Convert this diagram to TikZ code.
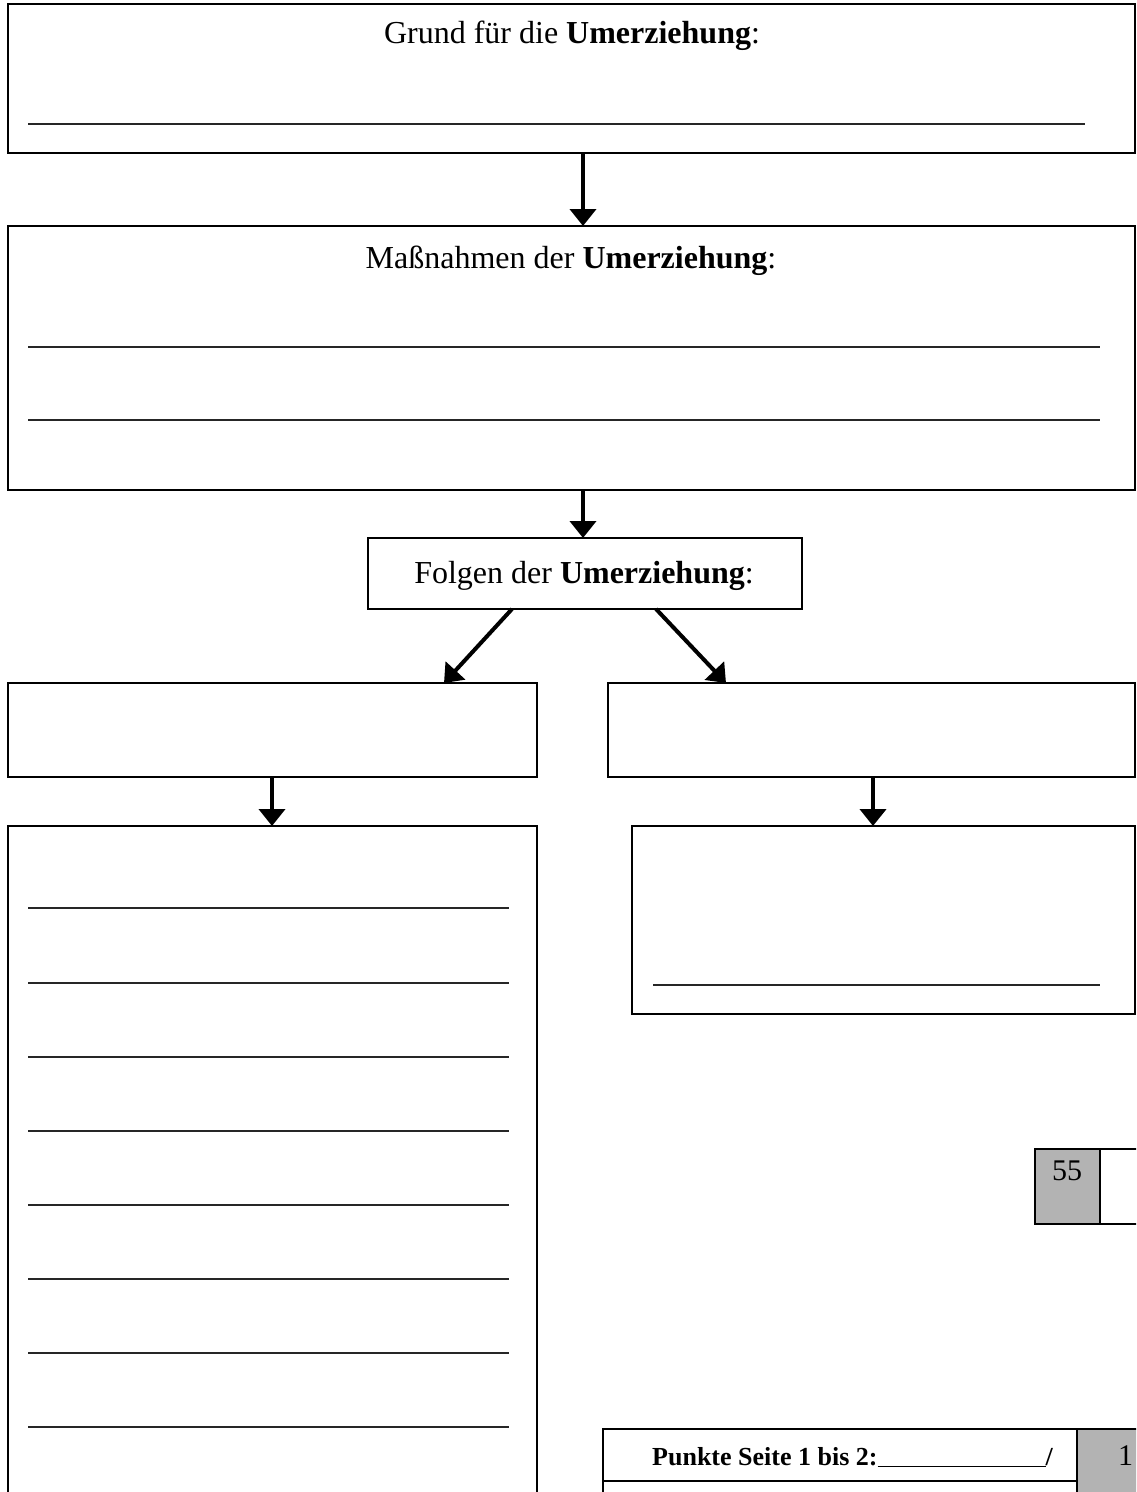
\documentclass[tikz,border=0pt]{standalone}
\usepackage{fontspec}
\setmainfont{Liberation Serif}
\usetikzlibrary{arrows.meta}
\definecolor{cellgray}{RGB}{179,179,179}
\tikzset{
  box/.style={draw=black, line width=2pt, anchor=north west, inner sep=0pt, outer sep=0pt},
  arr/.style={line width=4pt, -{Triangle[width=26pt,length=17pt]}, shorten >=0pt},
  blank/.style={line width=1.4pt, draw=black!85},
  big/.style={font=\fontsize{32}{38}\selectfont, inner sep=0pt},
  pts/.style={font=\fontsize{26}{31}\selectfont\bfseries, inner sep=0pt},
}
\newcommand{\bx}[5]{\node[box, minimum width=#4-#2, minimum height=#5-#3] (#1) at (#2,#3) {};}
\begin{document}
\begin{tikzpicture}[x=1pt,y=-1pt]
\useasboundingbox (0,0) rectangle (1136,1492);
\clip (0,0) rectangle (1136,1492);
% boxes
\node[box, minimum width=1127pt, minimum height=149pt] (b1) at (8,4) {};
\node[box, minimum width=1127pt, minimum height=264pt] (b2) at (8,226) {};
\node[box, minimum width=434pt, minimum height=71pt] (b3) at (368,538) {};
\node[box, minimum width=529pt, minimum height=94pt] (b4l) at (8,683) {};
\node[box, minimum width=527pt, minimum height=94pt] (b4r) at (608,683) {};
\node[box, minimum width=529pt, minimum height=700pt] (b5l) at (8,826) {};
\node[box, minimum width=503pt, minimum height=188pt] (b5r) at (632,826) {};
% small score boxes
\node[box, fill=cellgray, minimum width=65pt, minimum height=75pt] (s55) at (1035,1149) {};
\node[box, minimum width=50pt, minimum height=75pt] (s55b) at (1100,1149) {};
\node[box, minimum width=474pt, minimum height=52pt] (pk) at (603,1429) {};
\node[box, fill=cellgray, minimum width=70pt, minimum height=80pt] (pkg) at (1077,1429) {};
\draw[line width=2pt] (pk.south west) -- ++(0,20);
% texts
\node[big, anchor=base] (t1) at (572,43) {Grund für die \textbf{Umerziehung}:};
\node[big, anchor=base] (t2) at (571,268) {Maßnahmen der \textbf{Umerziehung}:};
\node[big, anchor=base] (t3) at (584,583) {Folgen der \textbf{Umerziehung}:};
\node[font=\fontsize{30}{36}\selectfont, inner sep=0pt, anchor=base] (t55) at (1067,1180) {55};
\node[pts, anchor=base west] (tpk) at (652,1465) {Punkte Seite 1 bis 2:\underline{\hspace{168pt}}/};
\node[font=\fontsize{30}{36}\selectfont, inner sep=0pt, anchor=base west] (t100) at (1118,1465) {1};
% writing lines
\draw[blank] (28,124) -- (1085,124);
\draw[blank] (28,347) -- (1100,347);
\draw[blank] (28,420) -- (1100,420);
\foreach \y in {908,983,1057,1131,1205,1279,1353,1427} \draw[blank] (28,\y) -- (509,\y);
\draw[blank] (653,985) -- (1100,985);
% arrow anchor coordinates
\coordinate (ax1) at (583,0);
\coordinate (ax2) at (272,0);
\coordinate (ax3) at (873,0);
\coordinate (dl1) at (512,0);
\coordinate (dl2) at (444,0);
\coordinate (dr1) at (656,0);
\coordinate (dr2) at (726,0);
% connectors
\draw[arr] (b1.south -| ax1) -- (b2.north -| ax1);
\draw[arr] (b2.south -| ax1) -- (b3.north -| ax1);
\draw[arr] (b3.south -| dl1) -- (b4l.north -| dl2);
\draw[arr] (b3.south -| dr1) -- (b4r.north -| dr2);
\draw[arr] (b4l.south -| ax2) -- (b5l.north -| ax2);
\draw[arr] (b4r.south -| ax3) -- (b5r.north -| ax3);
\end{tikzpicture}
\end{document}
